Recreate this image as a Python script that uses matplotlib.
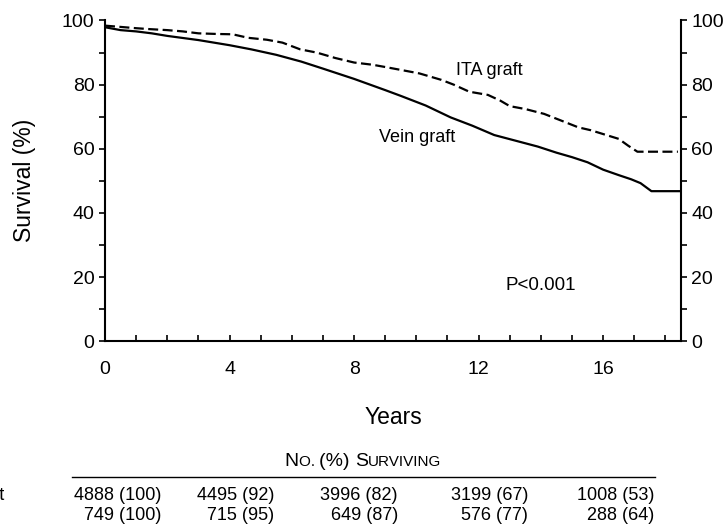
import matplotlib
matplotlib.use("Agg")
import matplotlib.pyplot as plt
from matplotlib.ticker import MultipleLocator
from matplotlib.offsetbox import TextArea, HPacker, AnchoredOffsetbox

plt.rcParams['font.family'] = ['Liberation Sans', 'DejaVu Sans']

# Kaplan-Meier curves
years_vein = [0, 0.5, 1, 1.5, 2, 3, 4, 4.7, 5.5, 6.3, 7, 8, 9, 9.5, 10.3, 11.1,
              11.8, 12.5, 13.2, 13.9, 14.5, 15, 15.5, 16, 16.5, 16.9, 17.2,
              17.55, 18.5]
surv_vein = [97.9, 97.0, 96.6, 96.0, 95.2, 93.9, 92.3, 91.0, 89.3, 87.2, 85.0,
             81.8, 78.3, 76.5, 73.5, 69.8, 67.2, 64.3, 62.5, 60.7, 58.8, 57.4,
             55.8, 53.5, 51.8, 50.5, 49.3, 46.8, 46.8]

years_ita = [0, 0.5, 1, 1.45, 2, 2.5, 3, 3.6, 4.1, 4.6, 5.2, 5.7, 6.27, 6.8,
             7.4, 8, 8.6, 9, 9.5, 10.1, 10.8, 11.2, 11.7, 12.3, 12.7, 13.0,
             13.5, 14.1, 14.6, 15.2, 15.6, 16.0, 16.5, 16.8, 17.1, 18.4]
surv_ita = [98.4, 98.0, 97.6, 97.3, 97.0, 96.6, 96.0, 95.8, 95.7, 94.6, 94.0,
            93.1, 91.0, 90.0, 88.3, 86.9, 86.2, 85.5, 84.6, 83.5, 81.5, 80.0,
            77.8, 76.8, 75.0, 73.3, 72.4, 70.9, 69.0, 66.7, 65.8, 64.6, 63.1,
            61.0, 59.1, 59.1]

# numbers at risk table
row_labels = ["Vein graft", "ITA graft"]
at_risk_vein = ["4888 (100)", "4495 (92)", "3996 (82)", "3199 (67)", "1008 (53)"]
at_risk_ita = ["749 (100)", "715 (95)", "649 (87)", "576 (77)", "288 (64)"]

W, H = 726, 529
fig = plt.figure(figsize=(W / 100, H / 100), dpi=100)
ax = fig.add_axes([105 / W, 1 - 341.3 / H, 576 / W, 320.8 / H])

ax.plot(years_vein, surv_vein, color="black", lw=1.6, solid_joinstyle="round")
ax.plot(years_ita, surv_ita, color="black", lw=1.6, dashes=(4.5, 2))

ax.set_xlim(0, 18.5)
ax.set_ylim(0, 100)

ax.spines['top'].set_visible(False)
for s in ['left', 'right', 'bottom']:
    ax.spines[s].set_linewidth(1.5)

ax.xaxis.set_major_locator(MultipleLocator(4))
ax.xaxis.set_minor_locator(MultipleLocator(1))
ax.yaxis.set_major_locator(MultipleLocator(20))
ax.yaxis.set_minor_locator(MultipleLocator(10))

ax.tick_params(axis='x', which='both', direction='in', length=4.5, width=1.2,
               labelsize=14, pad=14)
ax.tick_params(axis='y', which='both', direction='out', length=4.5, width=1.2,
               labelsize=14, left=True, right=True, labelleft=True,
               labelright=True, pad=3)

ax.text(11.25, 63.4, "Vein graft", ha="right", va="center", fontsize=13)
ax.text(12.33, 84.3, "ITA graft", ha="center", va="center", fontsize=13)
ax.text(14.0, 17.5, "P<0.001", ha="center", va="center", fontsize=13.5)

fig.text(25 / W, 1 - 180 / H, "Survival (%)", rotation=90, ha="center",
         va="center", fontsize=16.5)
fig.text(393 / W, 1 - 418 / H, "Years", ha="center", va="center", fontsize=16.5)

# small-caps header for the at-risk table
big, small = 14, 11
parts = [("N", big), ("O. ", small), ("(%) ", big), ("S", big),
         ("URVIVING", small)]
boxes = [TextArea(t, textprops=dict(fontsize=sz, family="Liberation Sans"))
         for t, sz in parts]
pack = HPacker(children=boxes, align="baseline", pad=0, sep=0)
anch = AnchoredOffsetbox(loc="center", child=pack, frameon=False,
                         bbox_to_anchor=(363 / W, 1 - 462 / H),
                         bbox_transform=fig.transFigure, borderpad=0, pad=0)
fig.add_artist(anch)

fig.add_artist(plt.Line2D([72 / W, 655 / W], [1 - 477 / H, 1 - 477 / H],
                          transform=fig.transFigure, color="black", lw=1.0))

col_right = [161, 274, 398, 528, 654]
row_y = [496, 515]
for r, row in enumerate([at_risk_vein, at_risk_ita]):
    for c, txt in enumerate(row):
        fig.text(col_right[c] / W, 1 - row_y[r] / H, txt, ha="right",
                 va="center", fontsize=13)
    fig.text(-72 / W, 1 - row_y[r] / H, row_labels[r], ha="left",
             va="center", fontsize=13)

fig.savefig("out.png", dpi=100)
